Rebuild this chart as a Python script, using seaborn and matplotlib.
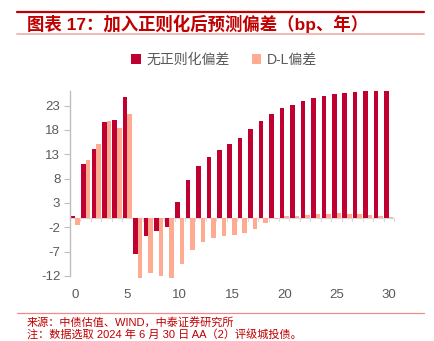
import matplotlib
matplotlib.use("Agg")
import matplotlib.pyplot as plt
import seaborn as sns
import pandas as pd
from matplotlib.lines import Line2D
from matplotlib.patches import Patch

years = list(range(31))
no_reg = [0.3, 11.1, 14.0, 19.6, 20.0, 24.8, -7.5, -3.8, -2.7, -1.9, 3.2,
          7.7, 10.5, 12.4, 13.9, 15.1, 16.4, 18.1, 19.75, 21.2, 22.6,
          23.1, 23.9, 24.5, 24.9, 25.3, 25.6, 25.8, 26.0, 26.0, 26.0]
dl = [-1.6, 11.8, 15.1, 19.75, 18.5, 21.3, -12.5, -11.3, -12.0, -12.5, -9.6,
      -6.6, -5.0, -4.1, -3.8, -3.6, -3.1, -2.3, -1.2, -0.3, 0.35,
      0.4, 0.5, 0.75, 0.8, 0.95, 0.8, 0.75, 0.5, 0.35, 0.15]
series_names = ["无正则化偏差", "D-L偏差"]
yticks = [-12, -7, -2, 3, 8, 13, 18, 23]
xtick_labels = [0, 5, 10, 15, 20, 25, 30]
title = "图表 17：加入正则化后预测偏差（bp、年）"
source = "来源：中债估值、WIND，中泰证券研究所"
note = "注：数据选取 2024 年 6 月 30 日 AA（2）评级城投债。"

RED = "#C00030"
SALMON = "#FFAB91"
GRAY = "#595959"
TITLE_RED = "#C00000"

sns.set_style("white")
plt.rcParams["font.family"] = ["Liberation Sans", "Noto Sans CJK SC", "DejaVu Sans"]

df = pd.DataFrame({
    "year": years * 2,
    "value": no_reg + dl,
    "series": [series_names[0]] * len(years) + [series_names[1]] * len(years),
})

fig = plt.figure(figsize=(4.35, 3.41), dpi=100)
ax = fig.add_axes([70 / 435, 1 - 276 / 341, (394 - 70) / 435, (276 - 91) / 341])

sns.barplot(data=df, x="year", y="value", hue="series", order=years,
            hue_order=series_names, palette=[RED, SALMON], saturation=1,
            width=0.87, linewidth=0, legend=False, ax=ax)
for p in ax.patches:
    p.set_clip_on(False)

ax.set_xlim(-0.5, 30.5)
ax.set_ylim(-12, 26)
ax.set_yticks(yticks)
ax.set_yticklabels([str(v) for v in yticks], fontsize=9.5, color=GRAY)
ax.set_xticks(xtick_labels)
ax.set_xticklabels([str(v) for v in xtick_labels], fontsize=9.5, color=GRAY)
ax.tick_params(axis="x", length=0, pad=9)
ax.tick_params(axis="y", length=4, width=0.8, color="#BFBFBF", direction="out", pad=3, left=True)
ax.set_xlabel("")
ax.set_ylabel("")
for s in ["top", "right", "bottom"]:
    ax.spines[s].set_visible(False)
ax.spines["left"].set_color("#BFBFBF")
ax.spines["left"].set_linewidth(1.0)

# zero axis line with category separator ticks
ax.axhline(0, color="#D9D9D9", lw=0.9, zorder=0.5)
for k in range(len(years) + 1):
    ax.plot([k - 0.5, k - 0.5], [0, -0.6], color="#D9D9D9", lw=0.8, zorder=0.5, clip_on=False)

# legend
handles = [Patch(facecolor=RED, edgecolor="none"), Patch(facecolor=SALMON, edgecolor="none")]
fig.legend(handles, series_names, loc="center", bbox_to_anchor=(0.515, 1 - 60 / 341),
           ncol=2, frameon=False, handlelength=0.7, handleheight=0.7,
           handletextpad=0.4, columnspacing=1.6, labelcolor=GRAY,
           prop={"family": ["Liberation Sans", "Noto Sans CJK SC"], "size": 10})

# title & decorations
fig.add_artist(Line2D([17 / 435, 424 / 435], [1 - 12 / 341, 1 - 12 / 341], color=TITLE_RED, lw=1.6))
fig.add_artist(Line2D([17 / 435, 424 / 435], [1 - 34 / 341, 1 - 34 / 341], color="#F2B8B8", lw=1.4))
fig.add_artist(Line2D([17 / 435, 424 / 435], [1 - 313 / 341, 1 - 313 / 341], color="#EE8A8A", lw=0.9))
fig.text(27 / 435, 1 - 24 / 341, title, fontsize=12.5, fontweight="bold", color=TITLE_RED,
         va="center", ha="left", family=["Liberation Sans", "Noto Sans CJK SC"])
fig.text(27 / 435, 1 - 322 / 341, source, fontsize=8, color=TITLE_RED,
         va="center", ha="left", family=["Liberation Sans", "Noto Sans CJK SC"])
fig.text(27 / 435, 1 - 334.5 / 341, note, fontsize=8, color=TITLE_RED,
         va="center", ha="left", family=["Liberation Sans", "Noto Sans CJK SC"])

fig.savefig("out.png", dpi=100)
